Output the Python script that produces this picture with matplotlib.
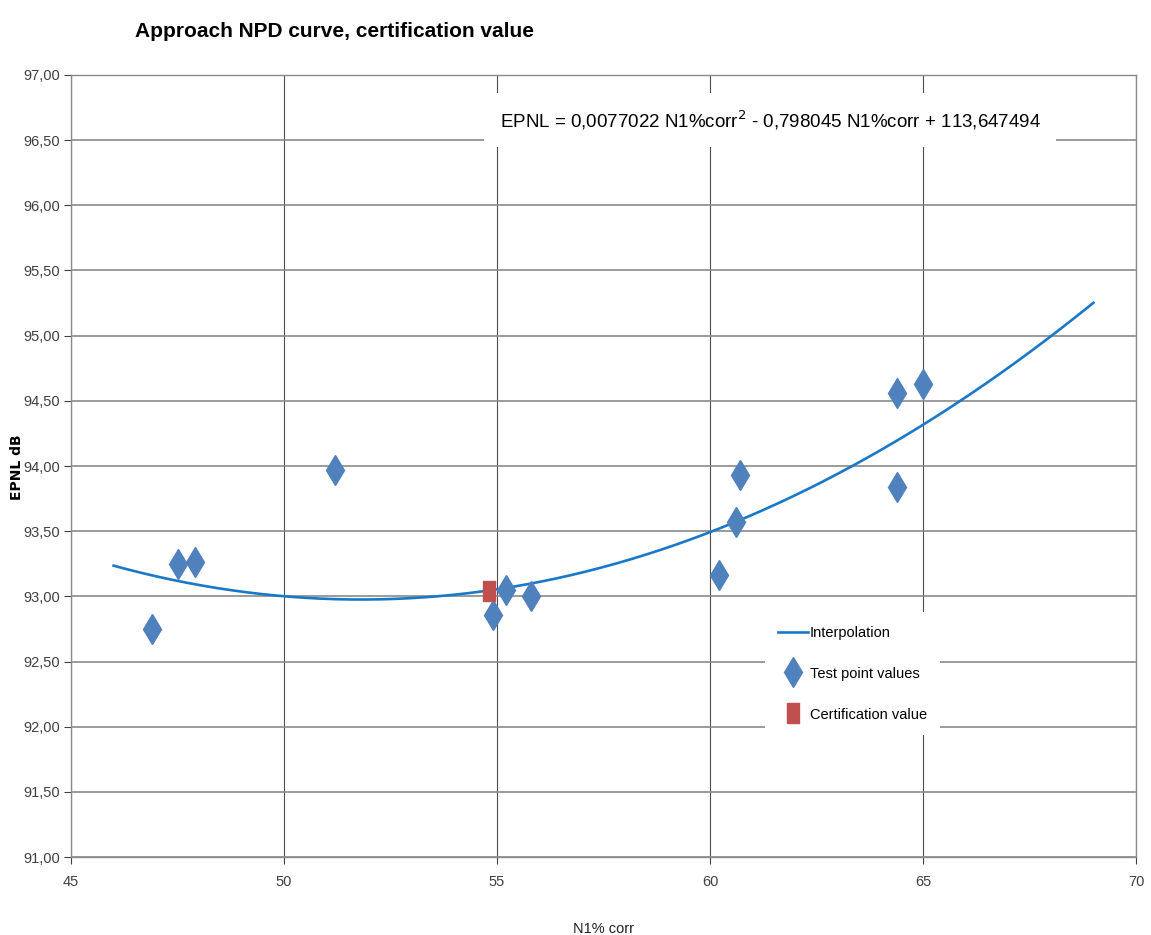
import matplotlib.pyplot as plt
import numpy as np

plt.style.use('default')
plt.rcParams['font.family'] = ['Liberation Sans', 'DejaVu Sans']

# test points
test_x = [46.9, 47.5, 47.9, 51.2, 54.9, 55.2, 55.8, 60.2, 60.6, 60.7, 64.4, 64.4, 65.0]
test_y = [92.75, 93.25, 93.26, 93.97, 92.86, 93.05, 93.00, 93.16, 93.57, 93.93, 93.84, 94.56, 94.63]

cert_x = [54.8]
cert_y = [93.04]

# quadratic fit shown on the chart (a, b, c)
fit_coef = [0.0077022, -0.798045, 113.647494]
fit_range = (46, 69)

x_ticks = [45, 50, 55, 60, 65, 70]
y_ticks = np.arange(91.0, 97.01, 0.5)

fig = plt.figure(figsize=(11.51, 9.35), dpi=100)
ax = fig.add_axes([0.0617, 0.0834, 0.9253, 0.8364])

fx = np.linspace(fit_range[0], fit_range[1], 200)
ax.plot(fx, np.polyval(fit_coef, fx), color='#1a78c8', lw=1.9, label='Interpolation', zorder=3)
ax.plot(test_x, test_y, ls='none', marker='d', ms=15, color='#4f81bd', label='Test point values', zorder=4)
rect = [(-0.3, -0.5), (0.3, -0.5), (0.3, 0.5), (-0.3, 0.5), (-0.3, -0.5)]
ax.plot(cert_x, cert_y, ls='none', marker=rect, ms=14, color='#c0504d', label='Certification value', zorder=5)

ax.set_xlim(45, 70)
ax.set_ylim(91, 97)
ax.set_xticks(x_ticks)
ax.set_yticks(y_ticks)
ax.set_yticklabels(['{:.2f}'.format(v).replace('.', ',') for v in y_ticks])
ax.tick_params(axis='both', labelsize=10.5, colors='#404040', length=5, width=0.8, direction='out')
ax.tick_params(axis='x', pad=8)
ax.tick_params(axis='y', pad=3)

ax.yaxis.grid(True, color='#8a8a8a', lw=1.2)
ax.xaxis.grid(True, color='#4d4d4d', lw=0.8)
ax.set_axisbelow(True)
for s in ax.spines.values():
    s.set_color('#8a8a8a')
    s.set_linewidth(1.0)

ax.set_xlabel('N1% corr', fontsize=10.5, labelpad=24, color='#202020')
fig.text(0.0145, 0.50, 'EPNL dB', rotation=90, fontsize=10, fontweight='bold',
         family='DejaVu Sans', ha='center', va='center')

fig.text(0.117, 0.966, 'Approach NPD curve, certification value', fontsize=15,
         fontweight='bold', ha='left', va='center')

ax.text(0.6565, 0.942, 'EPNL = 0,0077022 N1%corr$^2$ - 0,798045 N1%corr + 113,647494',
        transform=ax.transAxes, fontsize=13.5, ha='center', va='center',
        bbox=dict(facecolor='white', edgecolor='none', pad=11), zorder=6)

leg = ax.legend(loc='upper left', bbox_to_anchor=(0.645, 0.322), fontsize=10.5,
                frameon=True, facecolor='white', edgecolor='none', framealpha=1,
                labelspacing=1.85, handlelength=2.0, handletextpad=0.15, borderpad=0.9)
leg.get_frame().set_boxstyle('square', pad=0)
leg.set_zorder(7)

fig.savefig('out.png', dpi=100)
